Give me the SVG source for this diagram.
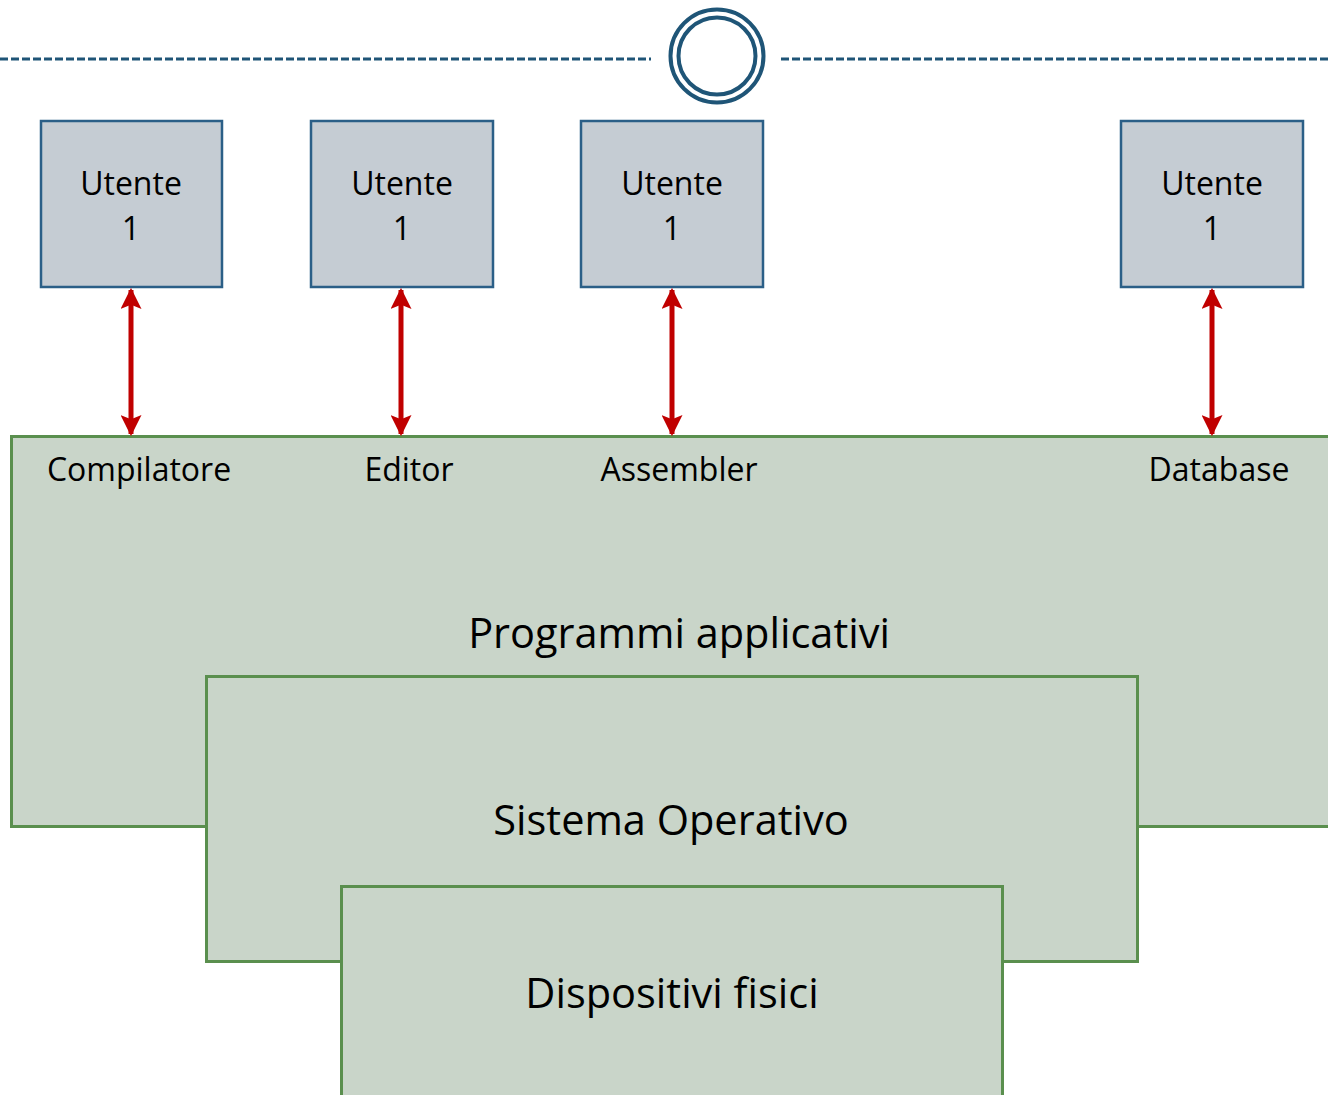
<svg xmlns="http://www.w3.org/2000/svg" width="1328" height="1095" viewBox="0 0 1328 1095">
  <style>
    .user rect { fill: #c5ccd3; stroke: #2b5f87; stroke-width: 2.5; }
    .layer rect { fill: #c9d5c9; stroke: #5a8f4e; stroke-width: 3; }
    text { font-family: "Open Sans", "Noto Sans", sans-serif; fill: #000; text-anchor: middle; }
    .ut { font-size: 32px; }
    .lbl { font-size: 32px; }
    .big { font-size: 41.5px; }
    .dash { stroke: #1f5577; stroke-width: 3; stroke-dasharray: 8 3; fill: none; }
    .link { stroke: #c00000; stroke-width: 5; fill: none; marker-start: url(#head); marker-end: url(#head); }
  </style>
  <defs>
    <marker id="head" viewBox="0 0 10 10" refX="9" refY="5" markerWidth="4.2" markerHeight="4.2" orient="auto-start-reverse" markerUnits="strokeWidth">
      <path d="M0,0 L10,5 L0,10 L2,5 Z" fill="#c00000"/>
    </marker>
  </defs>

  <!-- header rule with double ring -->
  <g id="header">
    <line class="dash" x1="0" y1="59" x2="651" y2="59"/>
    <line class="dash" x1="781" y1="59" x2="1328" y2="59"/>
    <circle cx="717" cy="56" r="46.5" fill="#fff" stroke="#1f5577" stroke-width="4"/>
    <circle cx="717" cy="56" r="38.5" fill="none" stroke="#1f5577" stroke-width="4"/>
  </g>

  <!-- layers, back to front -->
  <g id="programmi" class="layer">
    <rect x="11.5" y="436.5" width="1330" height="390"/>
    <text class="lbl" x="139" y="481">Compilatore</text>
    <text class="lbl" x="409" y="481">Editor</text>
    <text class="lbl" x="679" y="481">Assembler</text>
    <text class="lbl" x="1219" y="481">Database</text>
    <text class="big" x="679" y="648">Programmi applicativi</text>
  </g>
  <g id="sistema" class="layer">
    <rect x="206.5" y="676.5" width="931" height="285"/>
    <text class="big" x="671" y="835">Sistema Operativo</text>
  </g>
  <g id="dispositivi" class="layer">
    <rect x="341.5" y="886.5" width="661" height="230"/>
    <text class="big" x="672" y="1008">Dispositivi fisici</text>
  </g>

  <!-- users -->
  <g id="utente-a" class="user">
    <rect x="41" y="121" width="181" height="166"/>
    <text class="ut" x="131" y="195">Utente</text>
    <text class="ut" x="131" y="240">1</text>
  </g>
  <g id="utente-b" class="user">
    <rect x="311" y="121" width="182" height="166"/>
    <text class="ut" x="402" y="195">Utente</text>
    <text class="ut" x="402" y="240">1</text>
  </g>
  <g id="utente-c" class="user">
    <rect x="581" y="121" width="182" height="166"/>
    <text class="ut" x="672" y="195">Utente</text>
    <text class="ut" x="672" y="240">1</text>
  </g>
  <g id="utente-d" class="user">
    <rect x="1121" y="121" width="182" height="166"/>
    <text class="ut" x="1212" y="195">Utente</text>
    <text class="ut" x="1212" y="240">1</text>
  </g>

  <!-- two-way links between users and programs -->
  <g id="connectors">
    <line class="link" x1="131" y1="290" x2="131" y2="434"/>
    <line class="link" x1="401" y1="290" x2="401" y2="434"/>
    <line class="link" x1="672" y1="290" x2="672" y2="434"/>
    <line class="link" x1="1212" y1="290" x2="1212" y2="434"/>
  </g>
</svg>
